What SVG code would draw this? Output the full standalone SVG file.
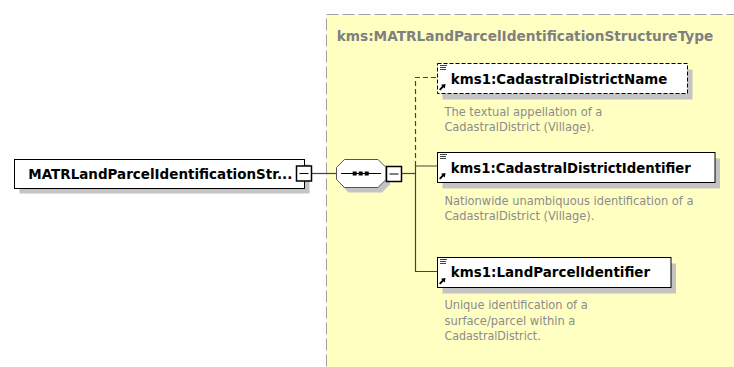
<svg xmlns="http://www.w3.org/2000/svg" width="734" height="367" viewBox="0 0 734 367">
<style>
.bold{font-family:"DejaVu Sans",Verdana,sans-serif;font-weight:bold;font-size:14px;fill:#000}
.title{font-family:"DejaVu Sans",Verdana,sans-serif;font-weight:bold;font-size:13.6px;fill:#808080}
.desc{font-family:"DejaVu Sans",Verdana,sans-serif;font-size:11.6px;fill:#8c8c8c}
.shadow{fill:#c4c4c4;stroke:none}
.box{fill:#fff;stroke:#000;stroke-width:1}
.minus{fill:#fff;stroke:#000;stroke-width:1.5}
.conn{fill:none;stroke:#444;stroke-width:1.2}
.icon{stroke:#444;stroke-width:1;fill:none}
</style>
<defs>
<g id="icons">
<path class="icon" d="M2.5 2h7M2.5 4h6M2.5 6h6"/>
<path d="M2.2 26.3L6 22.5" stroke="#000" stroke-width="1.8" fill="none"/>
<path d="M8 20.5L3.5 21.2L7.3 25Z" fill="#000"/>
</g>
</defs>
<rect width="734" height="367" fill="#fff"/>
<g id="complexType">
<rect x="326.5" y="14.5" width="460" height="380" fill="#ffffc2" stroke="#a0a0a0" stroke-width="1" stroke-dasharray="12,4"/>
<text class="title" x="336.7" y="40.7" textLength="376.6" lengthAdjust="spacingAndGlyphs">kms:MATRLandParcelIdentificationStructureType</text>
</g>
<g id="connectors">
<path class="conn" stroke="#000" d="M312 173.5H336.5"/>
<path class="conn" d="M402 173.5H415.5"/>
<path class="conn" stroke-dasharray="5,3" d="M415.5 166V77.5H437.5"/>
<path class="conn" d="M437.5 166H415.5V271.5H437.5"/>
</g>
<g id="root">
<rect class="shadow" x="19.5" y="164.5" width="290" height="29"/>
<rect class="box" x="14.5" y="159.5" width="290" height="29"/>
<text class="bold" x="28.3" y="179" textLength="264" lengthAdjust="spacingAndGlyphs">MATRLandParcelIdentificationStr...</text>
<rect class="minus" x="296.5" y="166" width="15" height="15"/>
<path d="M299.5 173.5h9" stroke="#000" stroke-width="1"/>
</g>
<g id="sequence">
<polygon class="shadow" points="348.5,164.5 382,164.5 390,172.5 390,184.5 382,192.5 348.5,192.5 340.5,184.5 340.5,172.5"/>
<polygon points="344.5,159.5 378,159.5 386,167.5 386,179.5 378,187.5 344.5,187.5 336.5,179.5 336.5,167.5" fill="#fff" stroke="#555" stroke-width="1"/>
<path d="M341 173.5H381" stroke="#000" stroke-width="1"/>
<rect x="352.7" y="171.5" width="4" height="4" fill="#000"/>
<rect x="358.7" y="171.5" width="4" height="4" fill="#000"/>
<rect x="364.7" y="171.5" width="4" height="4" fill="#000"/>
<rect class="minus" x="386.5" y="166.5" width="15" height="15"/>
<path d="M389.5 174h9" stroke="#000" stroke-width="1"/>
</g>
<g id="CadastralDistrictName">
<rect class="shadow" x="442.5" y="69.5" width="250" height="30"/>
<rect class="box" x="437.5" y="63.5" width="250" height="30" stroke-dasharray="4,2"/>
<use href="#icons" x="437.5" y="63.5"/>
<text class="bold" x="450.8" y="83.5" textLength="216.5" lengthAdjust="spacingAndGlyphs">kms1:CadastralDistrictName</text>
<text class="desc" x="444.4" y="115.7" textLength="158" lengthAdjust="spacingAndGlyphs">The textual appellation of a</text>
<text class="desc" x="444.4" y="130.7" textLength="150" lengthAdjust="spacingAndGlyphs">CadastralDistrict (Village).</text>
</g>
<g id="CadastralDistrictIdentifier">
<rect class="shadow" x="442.5" y="158.5" width="277.5" height="30"/>
<rect class="box" x="437.5" y="152.5" width="277.5" height="30"/>
<use href="#icons" x="437.5" y="152.5"/>
<text class="bold" x="450.8" y="172.5" textLength="240" lengthAdjust="spacingAndGlyphs">kms1:CadastralDistrictIdentifier</text>
<text class="desc" x="444.4" y="205" textLength="249" lengthAdjust="spacingAndGlyphs">Nationwide unambiquous identification of a</text>
<text class="desc" x="444.4" y="220" textLength="150" lengthAdjust="spacingAndGlyphs">CadastralDistrict (Village).</text>
</g>
<g id="LandParcelIdentifier">
<rect class="shadow" x="442.5" y="263.5" width="233.5" height="30"/>
<rect class="box" x="437.5" y="257.5" width="233.5" height="30"/>
<use href="#icons" x="437.5" y="257.5"/>
<text class="bold" x="450.8" y="277.3" textLength="199.3" lengthAdjust="spacingAndGlyphs">kms1:LandParcelIdentifier</text>
<text class="desc" x="444.4" y="309.3" textLength="143.3" lengthAdjust="spacingAndGlyphs">Unique identification of a</text>
<text class="desc" x="444.4" y="324.5" textLength="131" lengthAdjust="spacingAndGlyphs">surface/parcel within a</text>
<text class="desc" x="444.4" y="339.5" textLength="96.3" lengthAdjust="spacingAndGlyphs">CadastralDistrict.</text>
</g>
</svg>
